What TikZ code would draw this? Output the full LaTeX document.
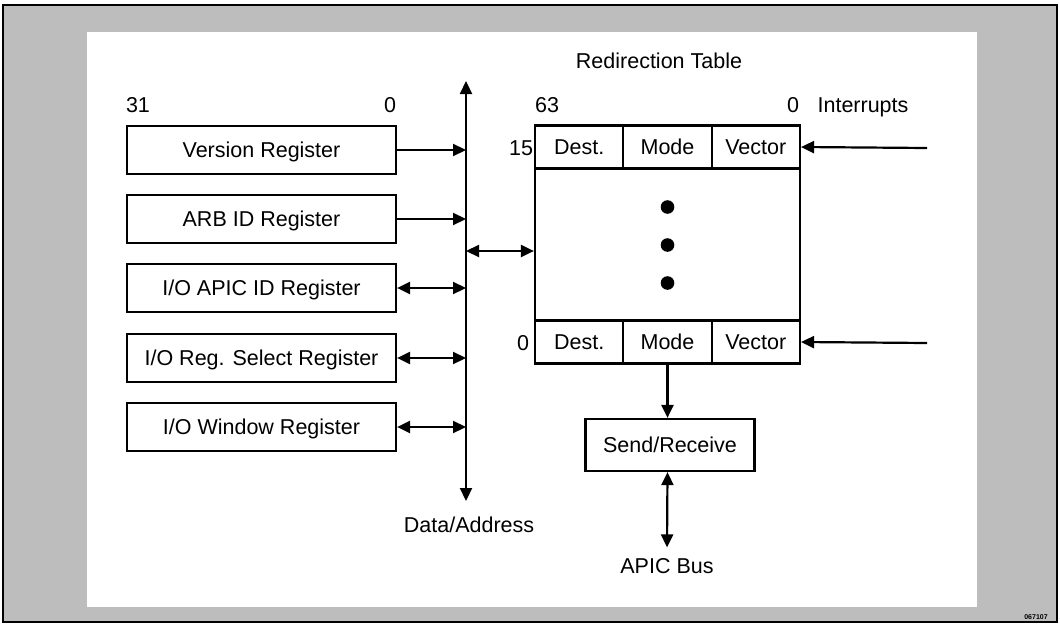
\documentclass[tikz,border=0pt]{standalone}
\usepackage{fontspec}
\setmainfont{Liberation Sans}
\usetikzlibrary{positioning,arrows.meta}

\begin{document}
\begin{tikzpicture}[x=1pt,y=-1pt,line width=2.2pt,
                       font=\fontsize{21.5}{25}\selectfont,
                       >={Triangle[length=13pt,width=12pt]},
                       reg box/.style={draw,minimum width=269pt,minimum height=48pt,
                                       inner sep=0pt,text height=16pt,text depth=1pt},
                       cell/.style={draw,minimum width=88.3pt,minimum height=43pt,
                                    inner sep=0pt,text height=16pt,text depth=1pt},
                       plain/.style={inner sep=1pt,text height=16pt,text depth=1pt}
                      ]
   % frame
   \useasboundingbox (0,0) rectangle (1060,626);
   \fill[black!26] (3,5) rectangle (1057,622);
   \draw[line width=2.4pt] (3,5) rectangle (1057,622);
   \fill[white] (87,32) rectangle (977,607);
   \node[inner sep=0pt,font=\fontsize{7}{8}\selectfont\bfseries] (fig) at (1036,617) {067107};

   % registers
   \node[reg box] (ver) at (261.5,150) {Version Register};
   \node[reg box] (arb) at (261.5,219) {ARB ID Register};
   \node[reg box] (apicid) at (261.5,288) {I/O APIC ID Register};
   \node[reg box] (regsel) at (261.5,358) {I/O Reg. Select Register};
   \node[reg box] (win) at (261.5,427) {I/O Window Register};
   \node[plain] (b31) at (138,105) {31};
   \node[plain] (b0) at (390,105) {0};

   % data/address bus
   \coordinate (bustop) at (466,81);
   \coordinate (busbot) at (466,501);
   \coordinate (tap) at (466,251);
   \node[plain] (dabus) at (469,525) {Data/Address};
   \draw[<->] (busbot) -- (bustop);

   % redirection table
   \node[draw,minimum width=265pt,minimum height=152pt,inner sep=0pt] (body) at (667.5,245) {};
   \node[cell] (dest15) at (579.2,147) {Dest.};
   \node[cell] (mode15) at (667.5,147) {Mode};
   \node[cell] (vec15) at (755.8,147) {Vector};
   \node[cell] (dest0) at (579.2,342) {Dest.};
   \node[cell] (mode0) at (667.5,342) {Mode};
   \node[cell] (vec0) at (755.8,342) {Vector};
   \foreach \y in {207,245,283}
      \fill (667.5,\y) circle (6.8pt);
   \node[plain] (title) at (659,61) {Redirection Table};
   \node[plain] (b63) at (547,105) {63};
   \node[plain] (b00) at (793,105) {0};
   \node[plain] (irq) at (863,105) {Interrupts};
   \node[plain] (e15) at (521,148) {15};
   \node[plain] (e0) at (523,343) {0};
   \coordinate (irqa) at (927,148);
   \coordinate (irqb) at (927,343);

   % send/receive
   \node[draw,minimum width=169pt,minimum height=52pt,text height=16pt,text depth=1pt] (sr) at (670,445) {Send/Receive};
   \node[plain] (apicbus) at (667,566) {APIC Bus};

   % connectors
   \draw[->] (ver.east) -- (ver.east -| bustop);
   \draw[->] (arb.east) -- (arb.east -| bustop);
   \draw[<->] (apicid.east) -- (apicid.east -| bustop);
   \draw[<->] (regsel.east) -- (regsel.east -| bustop);
   \draw[<->] (win.east) -- (win.east -| bustop);
   \draw[<->] (tap) -- (tap -| body.west);
   \draw[->] (irqa) -- (vec15.east);
   \draw[->] (irqb) -- (vec0.east);
   \draw[->] (mode0.south) -- (mode0.south |- sr.north);
   \draw[<->] (sr.south -| mode0.south) -- ([yshift=8pt]apicbus.north);
  \end{tikzpicture}
\end{document}
